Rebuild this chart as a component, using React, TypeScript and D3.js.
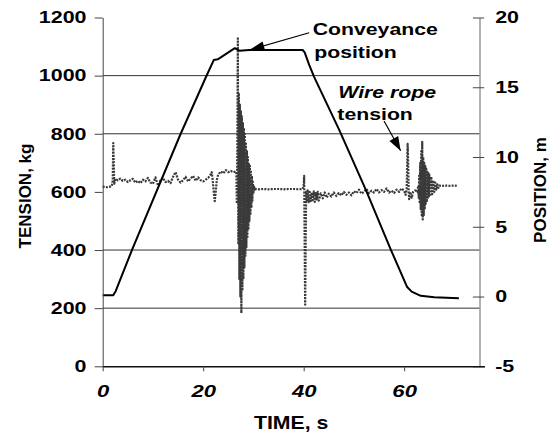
import React, { useRef, useEffect } from "react";
import * as d3 from "d3";

const width = 553;
const height = 433;
const plot = { left: 102.7, right: 479.5, top: 17.5, bottom: 366.3 };

// axes
const timeTicks = [0, 20, 40, 60];
const tensionTicks = [0, 200, 400, 600, 800, 1000, 1200];
const positionTicks = [-5, 0, 5, 10, 15, 20];
const gridLevels = [200, 400, 800, 1000];

// conveyance position, m
const positionTime = [0, 2.1, 2.6, 5.9, 15.5, 20.6, 22.1, 22.9, 26.3, 27.2, 29.2, 39.8, 40.2, 41.1, 42.1, 47.1, 52.4, 57.3, 60.6, 61.5, 63.3, 66.0, 70.9];
const positionValue = [0.1, 0.1, 0.4, 3.4, 11.65, 15.77, 16.95, 17.0, 17.8, 17.62, 17.67, 17.67, 17.5, 16.6, 15.73, 11.93, 7.63, 3.4, 0.68, 0.35, 0.05, -0.05, -0.12];

// wire rope tension, kg  [time s, tension]
const tensionStart = [
  [0, 618], [0.5, 617], [1, 616], [1.5, 618], [1.8, 620], [2.0, 640], [2.1, 768], [2.2, 700], [2.3, 628],
  [2.5, 645], [3, 640], [3.5, 646], [4, 638], [4.5, 642], [5, 634], [5.5, 640], [6, 645], [6.5, 632],
  [7, 638], [7.5, 630], [8, 642], [8.5, 636], [9, 648], [9.5, 632], [10, 628], [10.5, 650], [11, 622],
  [11.5, 640], [12, 648], [12.5, 634], [13, 638], [13.5, 630], [14, 652], [14.5, 668], [15, 642],
  [15.5, 632], [16, 640], [16.5, 652], [17, 636], [17.5, 646], [18, 655], [18.5, 638], [19, 650],
  [19.5, 640], [20, 636], [20.5, 642], [21, 648], [21.5, 660], [21.7, 668], [21.9, 640], [22.1, 600],
  [22.3, 568], [22.5, 600], [22.7, 640], [23, 660], [23.5, 670], [24, 664], [24.5, 675], [25, 668],
  [25.5, 672], [26, 668], [26.5, 670]
];
const tensionBurst1 = [
  [26.6, 668], [26.7, 560], [26.8, 760], [26.9, 1128], [27.0, 420], [27.1, 940], [27.2, 300], [27.3, 900],
  [27.4, 240], [27.5, 880], [27.6, 183], [27.7, 860], [27.8, 260], [27.9, 840], [28.0, 300], [28.1, 820],
  [28.2, 340], [28.3, 800], [28.4, 380], [28.5, 770], [28.6, 410], [28.7, 740], [28.8, 440], [28.9, 720],
  [29.0, 470], [29.1, 700], [29.2, 500], [29.3, 690], [29.4, 520], [29.5, 670], [29.6, 545], [29.7, 655],
  [29.8, 570], [29.9, 635], [30.0, 595], [30.1, 618], [30.3, 608]
];
const tensionMid = [
  [30.5, 610], [31, 609], [32, 610], [33, 609], [34, 610], [35, 610], [36, 609], [37, 610], [38, 610],
  [39, 609], [39.8, 610], [40.0, 620], [40.1, 655], [40.2, 420], [40.3, 207], [40.4, 420], [40.5, 600]
];
const tensionLate = [
  [40.6, 570], [40.8, 605], [41.0, 565], [41.2, 600], [41.4, 568], [41.6, 598], [41.8, 572], [42.0, 602],
  [42.2, 566], [42.4, 596], [42.6, 574], [42.8, 600], [43.0, 570], [43.4, 595], [43.8, 578], [44.2, 598],
  [44.6, 580], [45, 594], [45.5, 584], [46, 598], [46.5, 586], [47, 596], [47.5, 588], [48, 600],
  [48.5, 590], [49, 598], [49.5, 588], [50, 602], [50.5, 596], [51, 608], [51.5, 594], [52, 600],
  [52.5, 610], [53, 596], [53.5, 604], [54, 598], [54.5, 610], [55, 598], [55.5, 606], [56, 600],
  [56.5, 612], [57, 598], [57.5, 604], [58, 596], [58.5, 608], [59, 600], [59.5, 612], [60, 604],
  [60.3, 590], [60.5, 610], [60.7, 765], [60.8, 700], [60.9, 600], [61.0, 575], [61.2, 600], [61.5, 580],
  [61.8, 600], [62.2, 605], [62.6, 600]
];
const tensionBurst2 = [
  [62.8, 620], [62.9, 580], [63.0, 660], [63.1, 560], [63.2, 700], [63.3, 540], [63.4, 740], [63.5, 520],
  [63.6, 772], [63.7, 505], [63.8, 720], [63.9, 520], [64.0, 700], [64.1, 540], [64.2, 690], [64.3, 555],
  [64.4, 680], [64.5, 565], [64.6, 670], [64.7, 575], [64.8, 665], [64.9, 580], [65.0, 660], [65.2, 585],
  [65.4, 652], [65.6, 592], [65.8, 640], [66.0, 600], [66.2, 632], [66.4, 608], [66.6, 626], [66.8, 614],
  [67.0, 622], [67.5, 620], [68, 622], [69, 621], [70, 622], [70.6, 621]
];

const font = "'Liberation Sans', Arial, Helvetica, sans-serif";
const stretch = 1.25;
const numStretch = 1.3;

const App = () => {
  const leftRef = useRef<SVGGElement>(null);
  const rightRef = useRef<SVGGElement>(null);
  const bottomRef = useRef<SVGGElement>(null);

  const x = d3.scaleLinear().domain([0, 75]).range([plot.left, plot.right]);
  const yL = d3.scaleLinear().domain([0, 1200]).range([plot.bottom, plot.top]);
  const yR = d3.scaleLinear().domain([-5, 20]).range([plot.bottom, plot.top]);

  const tension = [...tensionStart, ...tensionBurst1, ...tensionMid, ...tensionLate, ...tensionBurst2];
  const tensionLine = d3.line<number[]>().x(d => x(d[0])).y(d => yL(d[1]));
  const positionLine = d3.line<number>().x((_, i) => x(positionTime[i])).y(d => yR(d));
  const plain = (d: d3.NumberValue) => String(d);

  useEffect(() => {
    const left = d3.select(leftRef.current!);
    left.call(d3.axisLeft(yL).tickValues(tensionTicks).tickFormat(plain).tickSize(8).tickSizeOuter(0));
    left.select(".domain").attr("stroke", "#444");
    left.selectAll(".tick line").attr("stroke", "#444");
    left.selectAll(".tick text")
      .attr("x", -16.2 / numStretch)
      .attr("transform", `scale(${numStretch},1)`)
      .attr("font-size", 16.5).attr("font-weight", "bold").attr("font-family", font).attr("fill", "#000");

    const right = d3.select(rightRef.current!);
    right.call(d3.axisRight(yR).tickValues(positionTicks).tickFormat(plain).tickSize(4.7).tickSizeOuter(0));
    right.select(".domain").attr("stroke", "#666");
    right.selectAll(".tick line").attr("x1", -6.6).attr("stroke", "#444");
    right.selectAll(".tick text")
      .attr("x", 15.7 / numStretch)
      .attr("transform", `scale(${numStretch},1)`)
      .attr("font-size", 16.5).attr("font-weight", "bold").attr("font-family", font).attr("fill", "#000");

    const bottom = d3.select(bottomRef.current!);
    bottom.call(d3.axisBottom(x).tickValues(timeTicks).tickFormat(plain).tickSize(5).tickSizeOuter(0));
    bottom.select(".domain").attr("stroke", "#111").attr("stroke-width", 1.5).attr("d", `M${x(0)},0.5H${plot.right + 5.5}`);
    bottom.selectAll(".tick line").attr("stroke", "#444");
    bottom.selectAll(".tick text")
      .attr("y", 19)
      .attr("x", 0)
      .attr("transform", `scale(${numStretch},1)`)
      .attr("font-size", 17).attr("font-weight", "bold").attr("font-style", "italic")
      .attr("font-family", font).attr("fill", "#000");
  });

  const arrowHead = (x1: number, y1: number, x2: number, y2: number, len: number, w: number) => {
    const a = Math.atan2(y2 - y1, x2 - x1);
    const bx = x2 - len * Math.cos(a), by = y2 - len * Math.sin(a);
    const px = (w / 2) * Math.sin(a), py = -(w / 2) * Math.cos(a);
    return `M${x2},${y2}L${bx + px},${by + py}L${bx - px},${by - py}Z`;
  };

  // annotation anchors in data units
  const convStart = [x(41.1), yL(1147.7)];
  const convTip = [x(29.2), yL(1088)];
  const wireStart = [x(56.0), yL(844)];
  const wireTip = [x(59.3), yL(741.5)];

  const hText = (tx: number, ty: number, s: string, italic = false) => (
    <text
      transform={`translate(${tx},${ty}) scale(${stretch},1)`}
      fontFamily={font} fontWeight="bold" fontSize={17}
      fontStyle={italic ? "italic" : "normal"} fill="#000">
      {s}
    </text>
  );

  return (
    <svg width={width} height={height} style={{ position: "absolute", left: 0, top: 0, background: "#fff" }}>
      <rect width={width} height={height} fill="#fff" />
      {gridLevels.map(v => (
        <line key={v} x1={plot.left} x2={plot.right} y1={yL(v)} y2={yL(v)} stroke="#333" strokeWidth={1} />
      ))}
      <path d={tensionLine(tension) || ""} fill="none" stroke="#3a3a3a" strokeWidth={2.2} strokeDasharray="2 1.2" strokeLinejoin="round" />
      <path d={positionLine(positionValue) || ""} fill="none" stroke="#000" strokeWidth={2} strokeLinejoin="round" />

      <g ref={leftRef} transform={`translate(${plot.left},0)`} />
      <g ref={rightRef} transform={`translate(${plot.right},0)`} />
      <g ref={bottomRef} transform={`translate(0,${plot.bottom})`} />

      {hText(x(41.8), yL(1140), "Conveyance")}
      {hText(x(42.1), yL(1059.6), "position")}
      <line x1={convStart[0]} y1={convStart[1]} x2={convTip[0]} y2={convTip[1]} stroke="#000" strokeWidth={1.2} />
      <path d={arrowHead(convStart[0], convStart[1], convTip[0], convTip[1], 15, 9)} fill="#000" />

      {hText(x(46.9), yL(924.6), "Wire rope", true)}
      {hText(x(46.7), yL(847), "tension")}
      <line x1={wireStart[0]} y1={wireStart[1]} x2={wireTip[0]} y2={wireTip[1]} stroke="#000" strokeWidth={1.2} />
      <path d={arrowHead(wireStart[0], wireStart[1], wireTip[0], wireTip[1], 14, 10)} fill="#000" />

      <text
        transform={`translate(${(plot.left + plot.right) / 2},429) scale(${1.18},1)`}
        textAnchor="middle" fontFamily={font} fontWeight="bold" fontSize={18} fill="#000">
        TIME, s
      </text>
      <text
        transform={`translate(31,196) rotate(-90)`}
        textAnchor="middle" fontFamily={font} fontWeight="bold" fontSize={17} fill="#000">
        TENSION, kg
      </text>
      <text
        transform={`translate(546,190) rotate(-90)`}
        textAnchor="middle" fontFamily={font} fontWeight="bold" fontSize={17} fill="#000">
        POSITION, m
      </text>
    </svg>
  );
};

export default App;
